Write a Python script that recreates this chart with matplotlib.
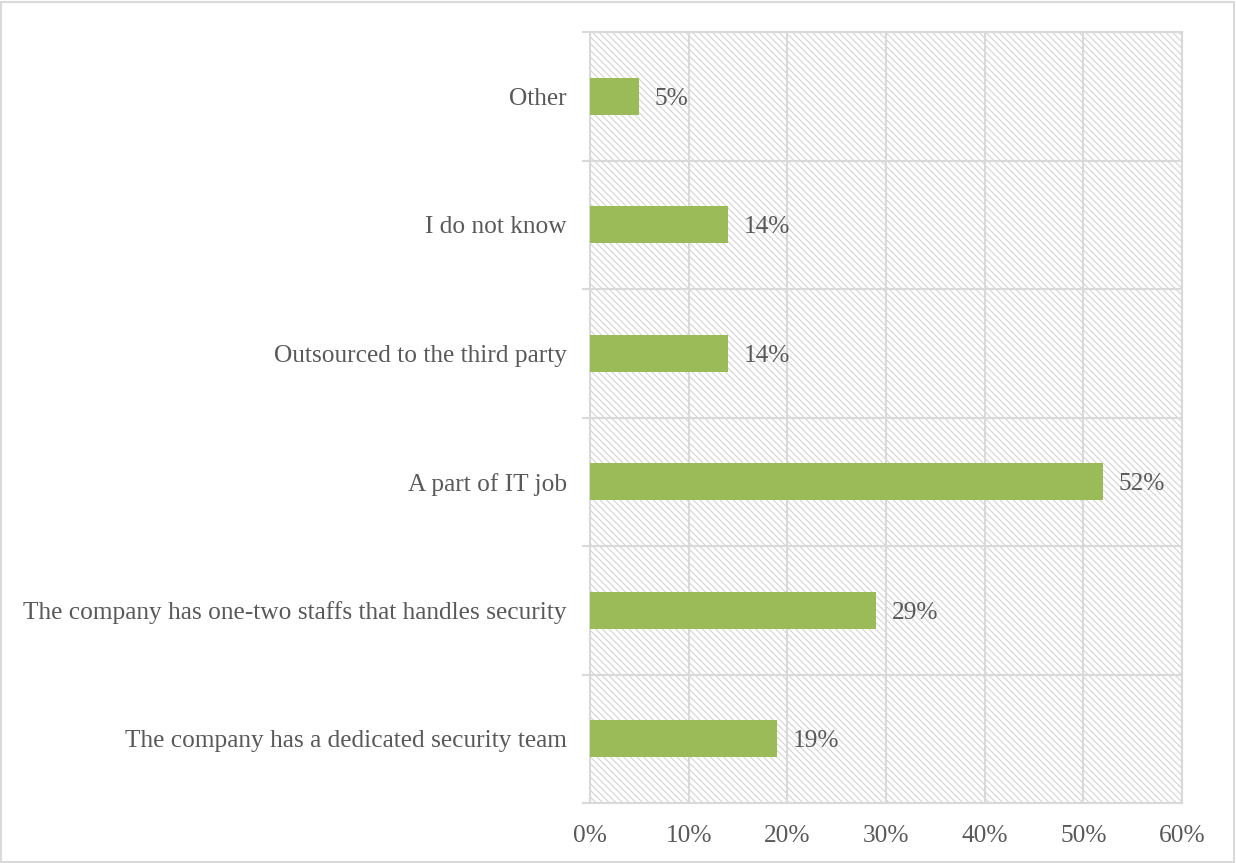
import matplotlib
matplotlib.use("Agg")
import matplotlib.pyplot as plt
from matplotlib.patches import Rectangle
from matplotlib.ticker import PercentFormatter

# survey answers, bottom to top
categories = [
    "The company has a dedicated security team",
    "The company has one-two staffs that handles security",
    "A part of IT job",
    "Outsourced to the third party",
    "I do not know",
    "Other",
]
values = [19, 29, 52, 14, 14, 5]
xticks = [0, 10, 20, 30, 40, 50, 60]

txt = "#595959"
grid = "#d9d9d9"
bar_color = "#9bbb59"
fs = 18.3

plt.rcParams["font.family"] = ["Liberation Serif", "DejaVu Serif"]
plt.rcParams["hatch.linewidth"] = 0.8

fig = plt.figure(figsize=(12.36, 8.63), dpi=100)
ax = fig.add_axes([0.4773, 0.0695, 0.479, 0.8934])

# hatched plot area
ax.patch.set_visible(False)
bg = Rectangle((0, 0), 1, 1, transform=ax.transAxes, facecolor="white",
               edgecolor="#d4d4d4", hatch="\\\\\\\\\\", linewidth=0, zorder=0)
ax.add_patch(bg)

y = list(range(len(categories)))
ax.barh(y, values, height=0.29, color=bar_color, zorder=3)
for yi, v in zip(y, values):
    ax.annotate(f"{v}%", (v, yi), xytext=(11, 0), textcoords="offset points",
                va="center_baseline", ha="left", fontsize=fs, color=txt, zorder=4)

ax.set_xlim(0, 60)
ax.set_ylim(-0.5, len(categories) - 0.5)
ax.set_xticks(xticks)
ax.xaxis.set_major_formatter(PercentFormatter(decimals=0))
ax.set_yticks(y)
ax.set_yticklabels(categories)
ax.set_yticks([i - 0.5 for i in range(len(categories) + 1)], minor=True)

ax.tick_params(axis="x", length=0, pad=16, labelsize=fs, labelcolor=txt)
ax.tick_params(axis="y", which="major", length=0, pad=16.5, labelsize=fs,
               labelcolor=txt)
ax.tick_params(axis="y", which="minor", length=6, width=1.5, color=grid)

ax.grid(axis="x", color=grid, linewidth=1.5, zorder=1)
ax.grid(axis="y", which="minor", color=grid, linewidth=1.5, zorder=1)
ax.set_axisbelow(True)
for s in ax.spines.values():
    s.set_color(grid)
    s.set_linewidth(1.5)

# outer chart border
fig.patches.append(Rectangle((0.001, 0.001), 0.997, 0.997, transform=fig.transFigure,
                             fill=False, edgecolor=grid, linewidth=1.5))

fig.savefig("out.png", dpi=100)
